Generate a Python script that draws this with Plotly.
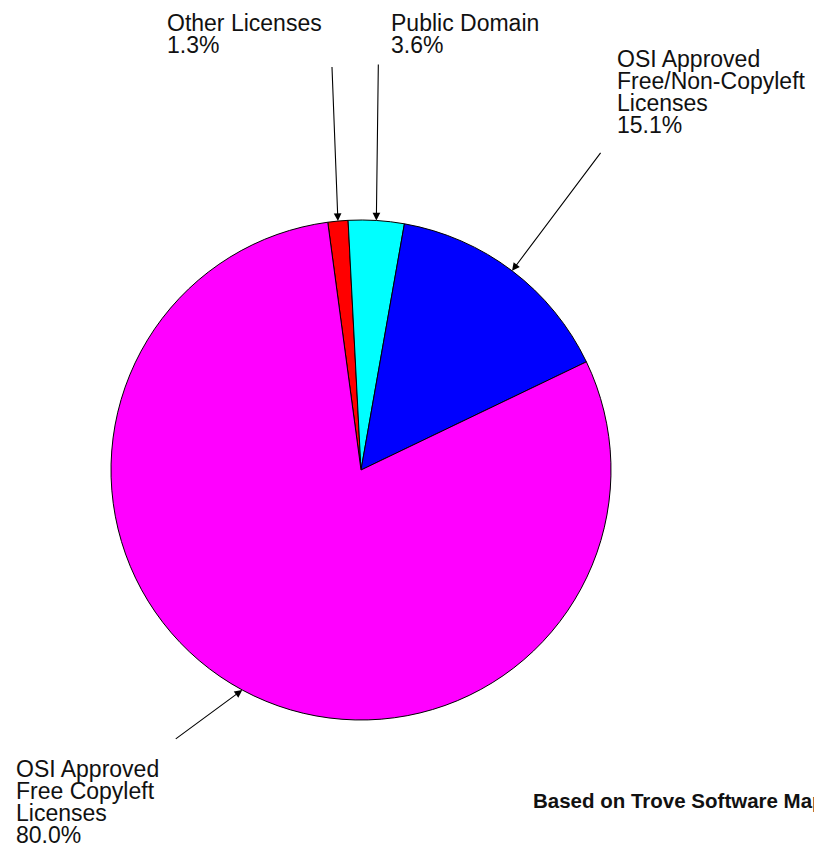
import numpy as np
import plotly.graph_objects as go

# ---- data ----
label_lines = [
    ["Other Licenses"],
    ["Public Domain"],
    ["OSI Approved", "Free/Non-Copyleft", "Licenses"],
    ["OSI Approved", "Free Copyleft", "Licenses"],
]
values = [1.3, 3.6, 15.1, 80.0]
colors = ["#FF0000", "#00FFFF", "#0000FF", "#FF00FF"]
footnote = "Based on Trove Software Map"

# ---- layout constants (pixels) ----
W, H = 814, 845
CX, CY, R = 361, 470, 250
ROT = -7.64
FONT = "Liberation Sans, Arial, Helvetica, sans-serif"
LSIZE = 23
LSTEP = 22
# label block: left x, first baseline y
label_pos = [(165, 31), (389, 31), (615, 67), (14, 777)]
# arrow tail offsets relative to head (pixels)
tail_off = [(-6, -156), (2, -158), (90, -120), (-68, 50)]

labels = [" ".join(l) for l in label_lines]


def px2paper(x, y):
    return x / W, 1 - y / H


fig = go.Figure()
fig.add_trace(go.Pie(
    labels=labels,
    values=values,
    sort=False,
    direction="clockwise",
    rotation=ROT,
    marker=dict(colors=colors, line=dict(color="black", width=1)),
    textinfo="none",
    hoverinfo="label+percent",
    showlegend=False,
    domain=dict(x=[(CX - R) / W, (CX + R) / W],
                y=[1 - (CY + R) / H, 1 - (CY - R) / H]),
))

annotations = []
total = sum(values)
cum = np.cumsum(values)
for i, v in enumerate(values):
    mid = np.deg2rad(ROT + 360.0 * (cum[i] - v / 2) / total)
    hx = CX + R * np.sin(mid)
    hy = CY - R * np.cos(mid)
    x, y = px2paper(hx, hy)
    annotations.append(dict(
        x=x, y=y, xref="paper", yref="paper", text=" ",
        font=dict(size=1), showarrow=True,
        ax=tail_off[i][0], ay=tail_off[i][1],
        arrowhead=2, arrowsize=1.4, arrowwidth=1.1, arrowcolor="black",
    ))
    lines = label_lines[i] + [f"{v:.1f}%"]
    lx, ly = label_pos[i]
    for j, t in enumerate(lines):
        bx, by = px2paper(lx, ly + j * LSTEP - 0.36 * LSIZE)
        annotations.append(dict(
            x=bx, y=by, xref="paper", yref="paper", text=t,
            showarrow=False, xanchor="left", yanchor="middle",
            font=dict(family=FONT, size=LSIZE, color="#111111"),
        ))

fx, fy = px2paper(531, 808 - 0.36 * 20.5)
annotations.append(dict(
    x=fx, y=fy, xref="paper", yref="paper", text=f"<b>{footnote}</b>",
    showarrow=False, xanchor="left", yanchor="middle",
    font=dict(family=FONT, size=20.5, color="#111111"),
))

fig.update_layout(
    width=W, height=H,
    margin=dict(l=0, r=0, t=0, b=0),
    paper_bgcolor="white",
    plot_bgcolor="white",
    annotations=annotations,
)

fig.write_html(
    "out.html",
    config={"displayModeBar": False},
    post_script="document.body.style.margin='0px';document.body.style.overflow='hidden';",
)
